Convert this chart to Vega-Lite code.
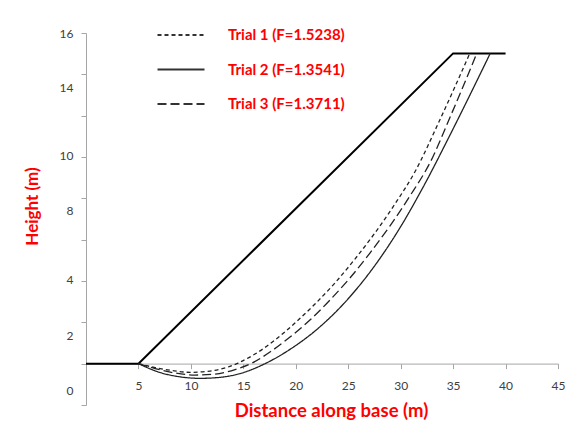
{
  "$schema": "https://vega.github.io/schema/vega-lite/v6.json",
  "width": 472,
  "height": 372,
  "autosize": "none",
  "padding": {"left": 86, "top": 33, "right": 29, "bottom": 23},
  "background": "white",
  "config": {"view": {"stroke": null}},
  "datasets": {
    "ground": [
      {"x": 0, "y": 1}, {"x": 5, "y": 1}, {"x": 35, "y": 15}, {"x": 40, "y": 15}
    ],
    "curves": [
      {"trial": "Trial 1 (F=1.5238)", "x": 5, "y": 1},
      {"trial": "Trial 1 (F=1.5238)", "x": 6.59, "y": 0.825},
      {"trial": "Trial 1 (F=1.5238)", "x": 8.21, "y": 0.69},
      {"trial": "Trial 1 (F=1.5238)", "x": 9.92, "y": 0.609},
      {"trial": "Trial 1 (F=1.5238)", "x": 11.83, "y": 0.667},
      {"trial": "Trial 1 (F=1.5238)", "x": 13.54, "y": 0.848},
      {"trial": "Trial 1 (F=1.5238)", "x": 14.5, "y": 1.028},
      {"trial": "Trial 1 (F=1.5238)", "x": 16.11, "y": 1.434},
      {"trial": "Trial 1 (F=1.5238)", "x": 18.02, "y": 2.066},
      {"trial": "Trial 1 (F=1.5238)", "x": 19.92, "y": 2.833},
      {"trial": "Trial 1 (F=1.5238)", "x": 21.83, "y": 3.691},
      {"trial": "Trial 1 (F=1.5238)", "x": 23.73, "y": 4.638},
      {"trial": "Trial 1 (F=1.5238)", "x": 25.64, "y": 5.721},
      {"trial": "Trial 1 (F=1.5238)", "x": 27.54, "y": 6.895},
      {"trial": "Trial 1 (F=1.5238)", "x": 29.45, "y": 8.203},
      {"trial": "Trial 1 (F=1.5238)", "x": 31.35, "y": 9.647},
      {"trial": "Trial 1 (F=1.5238)", "x": 33.73, "y": 11.994},
      {"trial": "Trial 1 (F=1.5238)", "x": 36.59, "y": 15},
      {"trial": "Trial 2 (F=1.3541)", "x": 5, "y": 1},
      {"trial": "Trial 2 (F=1.3541)", "x": 7.07, "y": 0.6},
      {"trial": "Trial 2 (F=1.3541)", "x": 8.97, "y": 0.405},
      {"trial": "Trial 2 (F=1.3541)", "x": 10.88, "y": 0.338},
      {"trial": "Trial 2 (F=1.3541)", "x": 12.78, "y": 0.383},
      {"trial": "Trial 2 (F=1.3541)", "x": 14.69, "y": 0.554},
      {"trial": "Trial 2 (F=1.3541)", "x": 17.07, "y": 1.0},
      {"trial": "Trial 2 (F=1.3541)", "x": 19.45, "y": 1.646},
      {"trial": "Trial 2 (F=1.3541)", "x": 22.3, "y": 2.662},
      {"trial": "Trial 2 (F=1.3541)", "x": 25.16, "y": 4.016},
      {"trial": "Trial 2 (F=1.3541)", "x": 27.54, "y": 5.428},
      {"trial": "Trial 2 (F=1.3541)", "x": 29.92, "y": 7.12},
      {"trial": "Trial 2 (F=1.3541)", "x": 32.3, "y": 9.106},
      {"trial": "Trial 2 (F=1.3541)", "x": 34.69, "y": 11.304},
      {"trial": "Trial 2 (F=1.3541)", "x": 38.54, "y": 15},
      {"trial": "Trial 3 (F=1.3711)", "x": 5, "y": 1},
      {"trial": "Trial 3 (F=1.3711)", "x": 6.59, "y": 0.78},
      {"trial": "Trial 3 (F=1.3711)", "x": 8.5, "y": 0.577},
      {"trial": "Trial 3 (F=1.3711)", "x": 10.4, "y": 0.487},
      {"trial": "Trial 3 (F=1.3711)", "x": 12.3, "y": 0.532},
      {"trial": "Trial 3 (F=1.3711)", "x": 14.21, "y": 0.735},
      {"trial": "Trial 3 (F=1.3711)", "x": 15.83, "y": 1.028},
      {"trial": "Trial 3 (F=1.3711)", "x": 17.54, "y": 1.525},
      {"trial": "Trial 3 (F=1.3711)", "x": 19.45, "y": 2.202},
      {"trial": "Trial 3 (F=1.3711)", "x": 21.35, "y": 2.969},
      {"trial": "Trial 3 (F=1.3711)", "x": 23.26, "y": 3.871},
      {"trial": "Trial 3 (F=1.3711)", "x": 25.16, "y": 4.864},
      {"trial": "Trial 3 (F=1.3711)", "x": 27.07, "y": 5.992},
      {"trial": "Trial 3 (F=1.3711)", "x": 28.97, "y": 7.211},
      {"trial": "Trial 3 (F=1.3711)", "x": 30.88, "y": 8.564},
      {"trial": "Trial 3 (F=1.3711)", "x": 32.78, "y": 10.054},
      {"trial": "Trial 3 (F=1.3711)", "x": 34.88, "y": 12.31},
      {"trial": "Trial 3 (F=1.3711)", "x": 37.26, "y": 15}
    ]
  },
  "layer": [
    {
      "data": {"name": "ground"},
      "mark": {"type": "line", "color": "#000000", "strokeWidth": 2},
      "encoding": {
        "x": {
          "field": "x", "type": "quantitative",
          "scale": {"domain": [0, 45], "nice": false, "zero": false},
          "axis": {
            "values": [5, 10, 15, 20, 25, 30, 35, 40, 45],
            "offset": -41.4, "grid": false,
            "domainColor": "#a6a6a6", "tickColor": "#a6a6a6", "tickSize": 5,
            "labelFont": "Lato", "labelFontSize": 12, "labelColor": "#404040",
            "labelPadding": 12, "labelFlush": false,
            "title": "Distance along base (m)",
            "titleFont": "Lato", "titleFontSize": 18.5, "titleFontWeight": "bold", "titleColor": "#ff0000",
            "titleX": 245, "titleY": 47, "titleAlign": "center", "titleBaseline": "middle", "titleAnchor": null
          }
        },
        "y": {
          "field": "y", "type": "quantitative",
          "scale": {"domain": [-0.865, 15.92], "nice": false, "zero": false},
          "axis": {
            "values": [-0.865, 1, 2.865, 4.73, 6.595, 8.46, 10.325, 12.19, 14.055, 15.92],
            "labels": false, "grid": false, "title": null,
            "domainColor": "#a6a6a6", "tickColor": "#a6a6a6", "tickSize": 5
          }
        }
      }
    },
    {
      "data": {"name": "curves"},
      "mark": {"type": "line", "color": "#222222", "strokeWidth": 1.3, "interpolate": "monotone"},
      "encoding": {
        "x": {
          "field": "x", "type": "quantitative",
          "scale": {"domain": [0, 45], "nice": false, "zero": false},
          "axis": {
            "values": [5, 10, 15, 20, 25, 30, 35, 40, 45],
            "offset": -41.4, "grid": false,
            "domainColor": "#a6a6a6", "tickColor": "#a6a6a6", "tickSize": 5,
            "labelFont": "Lato", "labelFontSize": 12, "labelColor": "#404040",
            "labelPadding": 12, "labelFlush": false,
            "title": "Distance along base (m)",
            "titleFont": "Lato", "titleFontSize": 18.5, "titleFontWeight": "bold", "titleColor": "#ff0000",
            "titleX": 245, "titleY": 47, "titleAlign": "center", "titleBaseline": "middle", "titleAnchor": null
          }
        },
        "y": {
          "field": "y", "type": "quantitative",
          "scale": {"domain": [-0.865, 15.92], "nice": false, "zero": false},
          "axis": {
            "orient": "left",
            "values": [15.92, 13.48, 10.41, 7.89, 4.82, 2.29, -0.19],
            "labelExpr": "datum.value > 15 ? '16' : datum.value > 12 ? '14' : datum.value > 9 ? '10' : datum.value > 6 ? '8' : datum.value > 3.5 ? '4' : datum.value > 1 ? '2' : '0'",
            "ticks": false, "domain": false, "grid": false, "tickSize": 0,
            "labelPadding": 13, "labelOverlap": false, "labelFlush": false,
            "labelFont": "Lato", "labelFontSize": 12, "labelColor": "#404040",
            "title": "Height (m)",
            "titleFont": "Lato", "titleFontSize": 17, "titleFontWeight": "bold", "titleColor": "#ff0000",
            "titleX": -54, "titleY": 173, "titleAngle": -90, "titleAlign": "center", "titleBaseline": "middle", "titleAnchor": null
          }
        },
        "strokeDash": {
          "field": "trial", "type": "nominal",
          "scale": {
            "domain": ["Trial 1 (F=1.5238)", "Trial 2 (F=1.3541)", "Trial 3 (F=1.3711)"],
            "range": [[4, 3], [1, 0], [9, 4]]
          },
          "legend": {
            "orient": "none", "legendX": 70, "legendY": -23, "direction": "vertical",
            "title": null, "padding": 0,
            "symbolType": "stroke", "symbolSize": 2209, "symbolStrokeWidth": 2.2,
            "symbolStrokeColor": "#333333",
            "labelFont": "Lato", "labelFontSize": 15, "labelFontWeight": "bold", "labelColor": "#ff0000",
            "labelOffset": 22, "rowPadding": 1.5, "labelLimit": 300
          }
        }
      }
    }
  ],
  "resolve": {"scale": {"x": "shared", "y": "shared"}, "axis": {"y": "independent"}}
}
